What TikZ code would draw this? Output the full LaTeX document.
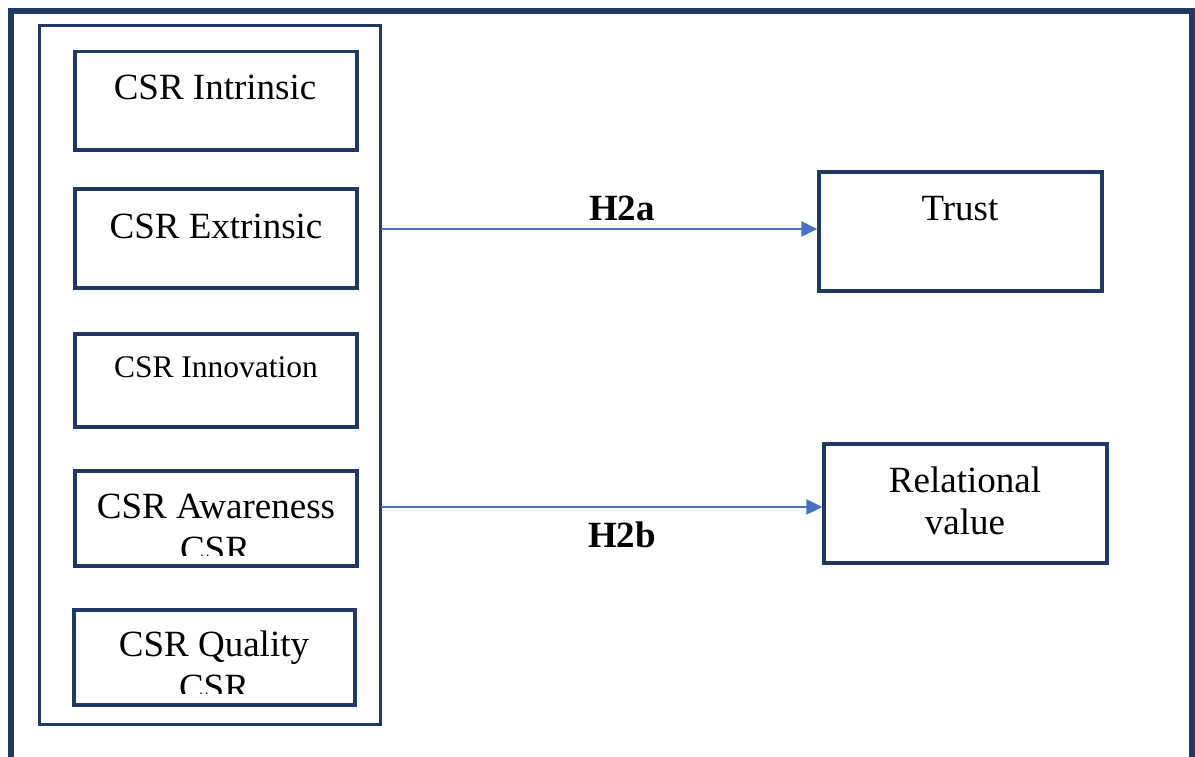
\documentclass[tikz,border=0pt]{standalone}
\usepackage{fontspec}
\setmainfont{Liberation Serif}
\usetikzlibrary{arrows.meta}
\definecolor{navy}{RGB}{31,56,100}
\definecolor{arrblue}{RGB}{68,114,196}
\begin{document}
\begin{tikzpicture}[x=1pt,y=-1pt,
  box/.style={draw=navy,line width=3.5pt,inner sep=0pt,rectangle},
  lbl/.style={font=\fontsize{37}{42}\selectfont,anchor=base,inner sep=0pt},
  smalllbl/.style={font=\fontsize{31.5}{38}\selectfont,anchor=base,inner sep=0pt},
  hyp/.style={font=\fontsize{37}{42}\selectfont\bfseries,anchor=base,inner sep=0pt},
  arr/.style={draw=arrblue,line width=2.5pt,-{Triangle[length=16pt,width=15pt]}}]
\useasboundingbox (0,0) rectangle (1195,757);
% outer frame (open at the bottom, beyond the picture)
\draw[navy,line width=5.5pt] (11,780) -- (11,11) -- (1192,11) -- (1192,780);
% column frame
\node[draw=navy,line width=2.5pt,inner sep=0pt,minimum width=341pt,minimum height=699pt] (col) at (210,375) {};
% boxes
\node[box,minimum width=282pt,minimum height=98.5pt] (intr) at (216,100.75) {};
\node[box,minimum width=282pt,minimum height=99pt] (ext) at (216,238.5) {};
\node[box,minimum width=282pt,minimum height=93pt] (inno) at (216,380.5) {};
\node[box,minimum width=282pt,minimum height=95pt] (awa) at (216,518.5) {};
\node[box,minimum width=281pt,minimum height=95pt] (qual) at (214.5,657.5) {};
\node[box,minimum width=283pt,minimum height=119pt] (trust) at (960.5,231.5) {};
\node[box,minimum width=283pt,minimum height=119pt] (rel) at (965.5,503.5) {};
% texts
\node[lbl] (tintr) at (215,100) {CSR Intrinsic};
\node[lbl] (text) at (216,238) {CSR Extrinsic};
\node[smalllbl] (tinno) at (216,377) {CSR Innovation};
\node[lbl] (tawa) at (216,518) {CSR Awareness};
\begin{scope}
  \clip (80,522) rectangle (350,555);
  \node[lbl] (tawa2) at (215,561) {CSR};
\end{scope}
\node[lbl] (tqual) at (214,656) {CSR Quality};
\begin{scope}
  \clip (80,662) rectangle (350,693);
  \node[lbl] (tqual2) at (214,699) {CSR};
\end{scope}
\node[lbl] (ttrust) at (960,221) {Trust};
\node[lbl] (trel1) at (965,492) {Relational};
\node[lbl] (trel2) at (965,534) {value};
% arrows
\draw[arr,shorten <=-1pt] (col.east |- 0,229) -- (trust.west |- 0,229);
\draw[arr,shorten <=-1pt] (col.east |- 0,507) -- (rel.west |- 0,507);
\node[hyp] (h2a) at (622,220) {H2a};
\node[hyp] (h2b) at (622,547) {H2b};
\end{tikzpicture}
\end{document}
